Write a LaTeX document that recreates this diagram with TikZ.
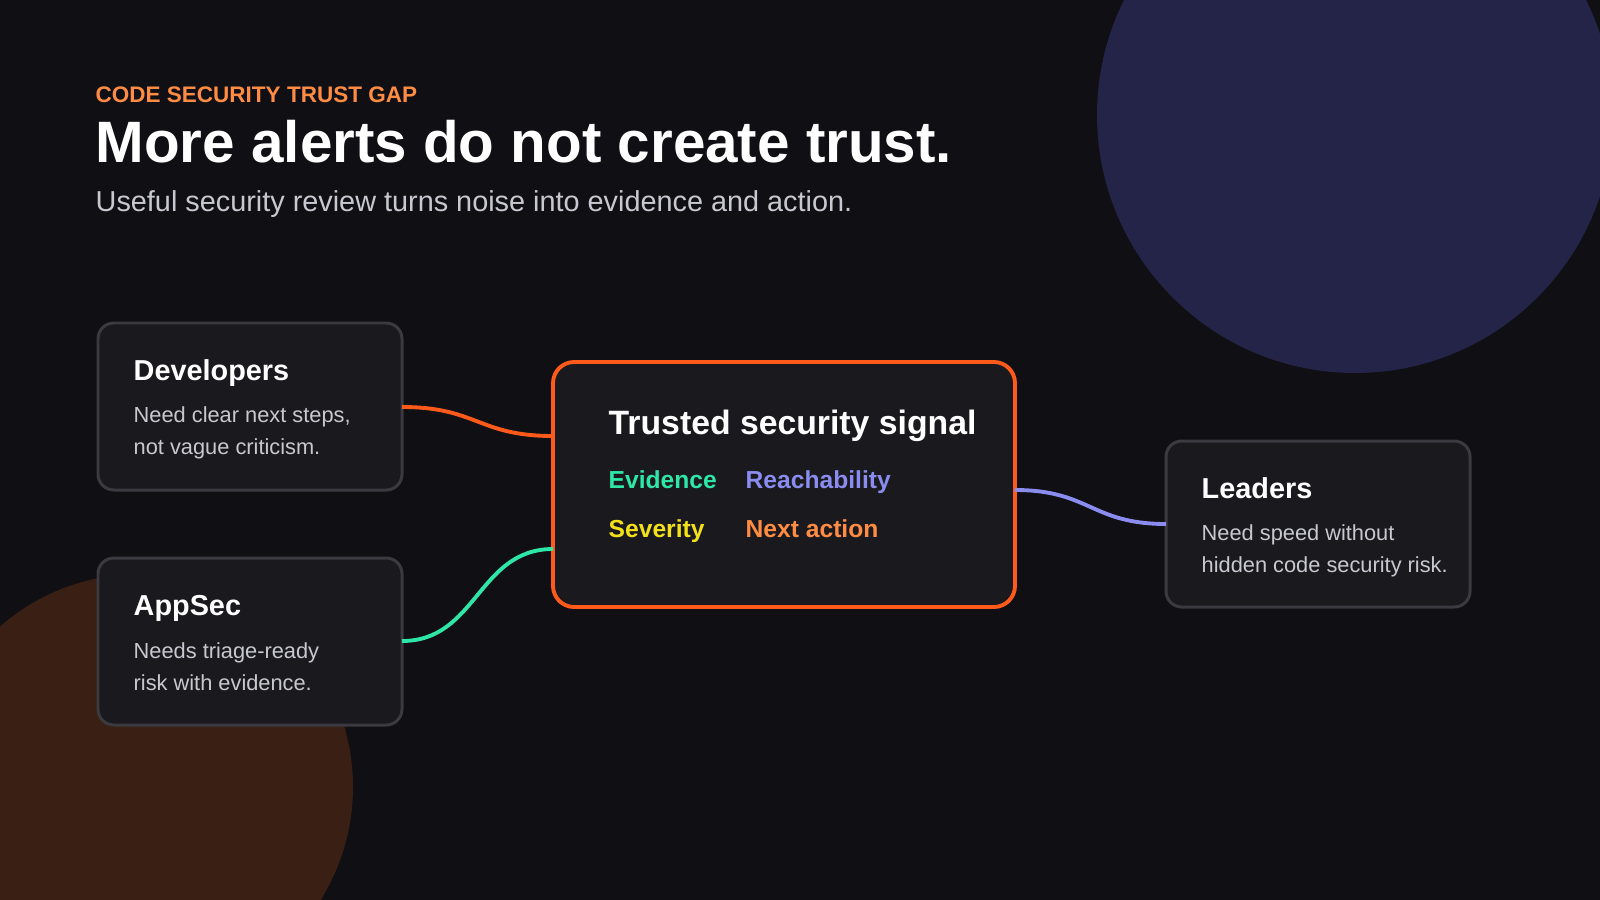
\documentclass[tikz,border=0pt]{standalone}
\usepackage{fontspec}
\setmainfont{Liberation Sans}
\usetikzlibrary{positioning,calc}
\definecolor{bgdark}{HTML}{0F0F14}
\definecolor{cardfill}{HTML}{1A191E}
\definecolor{cardline}{HTML}{3A3A40}
\definecolor{signalorange}{HTML}{FF5A1A}
\definecolor{kickerorange}{HTML}{FF8C42}
\definecolor{evgreen}{HTML}{2EE6A6}
\definecolor{reachpurple}{HTML}{8A8CF0}
\definecolor{sevyellow}{HTML}{F2E018}
\definecolor{bodygrey}{HTML}{C8C8D0}
\definecolor{blobblue}{HTML}{242448}
\definecolor{blobbrown}{HTML}{3A1F14}

\begin{document}
\begin{tikzpicture}[x=0.01cm, y=-0.01cm,
        every node/.style={inner sep=0pt},
        card/.style={draw=cardline, line width=0.85pt, fill=cardfill, rounded corners=4.5pt},
        cardtitle/.style={anchor=base west, text=white, font=\bfseries\fontsize{8.2}{10}\selectfont},
        cardbody/.style={anchor=base west, text=bodygrey, align=left, font=\fontsize{6.2}{8.9}\selectfont},
        tag/.style={anchor=base west, font=\bfseries\fontsize{7}{9}\selectfont},
        link/.style={line width=1.1pt}
    ]
        \clip (0,0) rectangle (1600,900);
        \fill[bgdark] (0,0) rectangle (1600,900);

        % Background blobs
        \fill[blobblue] (1355,115) circle (258);
        \fill[blobbrown] (140,787) circle (213);

        % Heading
        \node[anchor=base west, text=kickerorange, font=\bfseries\fontsize{6.4}{8}\selectfont] (kicker) at (95,102) {CODE SECURITY TRUST GAP};
        \node[anchor=base west, text=white, font=\bfseries\fontsize{16.6}{20}\selectfont] (title) at (95,162) {More alerts do not create trust.};
        \node[anchor=base west, text=bodygrey, font=\fontsize{8.2}{10}\selectfont] (subtitle) at (95,211) {Useful security review turns noise into evidence and action.};

        % Audience cards
        \draw[card] (98,323) rectangle (402,490);
        \path (98,323) rectangle (402,490) node[pos=.5] (dev) {};
        \node[cardtitle] (devtitle) at (133,380) {Developers};
        \node[cardbody] (devbody) at (133,454) {Need clear next steps,\\not vague criticism.};

        \draw[card] (98,558) rectangle (402,725);
        \path (98,558) rectangle (402,725) node[pos=.5] (appsec) {};
        \node[cardtitle] (appsectitle) at (133,615) {AppSec};
        \node[cardbody] (appsecbody) at (133,690) {Needs triage-ready\\risk with evidence.};

        \draw[card] (1166,441) rectangle (1470,607);
        \path (1166,441) rectangle (1470,607) node[pos=.5] (leaders) {};
        \node[cardtitle] (leaderstitle) at (1201,498) {Leaders};
        \node[cardbody] (leadersbody) at (1201,572) {Need speed without\\hidden code security risk.};

        % Trusted signal
        \draw[draw=signalorange, line width=1.1pt, fill=cardfill, rounded corners=6pt] (553,362) rectangle (1015,607);
        \node[anchor=base west, text=white, font=\bfseries\fontsize{9.6}{12}\selectfont] (signal) at (608,434) {Trusted security signal};
        \node[tag, text=evgreen] (evidence) at (608,488) {Evidence};
        \node[tag, text=reachpurple] (reach) at (745,488) {Reachability};
        \node[tag, text=sevyellow] (severity) at (608,537) {Severity};
        \node[tag, text=kickerorange] (next) at (745,537) {Next action};

        % Connector ends
        \coordinate (devout) at (402,407);
        \coordinate (appsecout) at (402,641);
        \coordinate (leadersin) at (1166,524);
        \coordinate (sigin1) at (553,436);
        \coordinate (sigin2) at (553,549);
        \coordinate (sigout) at (1015,490);

        % Links
        \draw[link, signalorange] (devout) .. controls +(75,0) and +(-75,0) .. (sigin1);
        \draw[link, evgreen] (appsecout) .. controls +(75,0) and +(-75,0) .. (sigin2);
        \draw[link, reachpurple] (sigout) .. controls +(75,0) and +(-75,0) .. (leadersin);
    \end{tikzpicture}
\end{document}
